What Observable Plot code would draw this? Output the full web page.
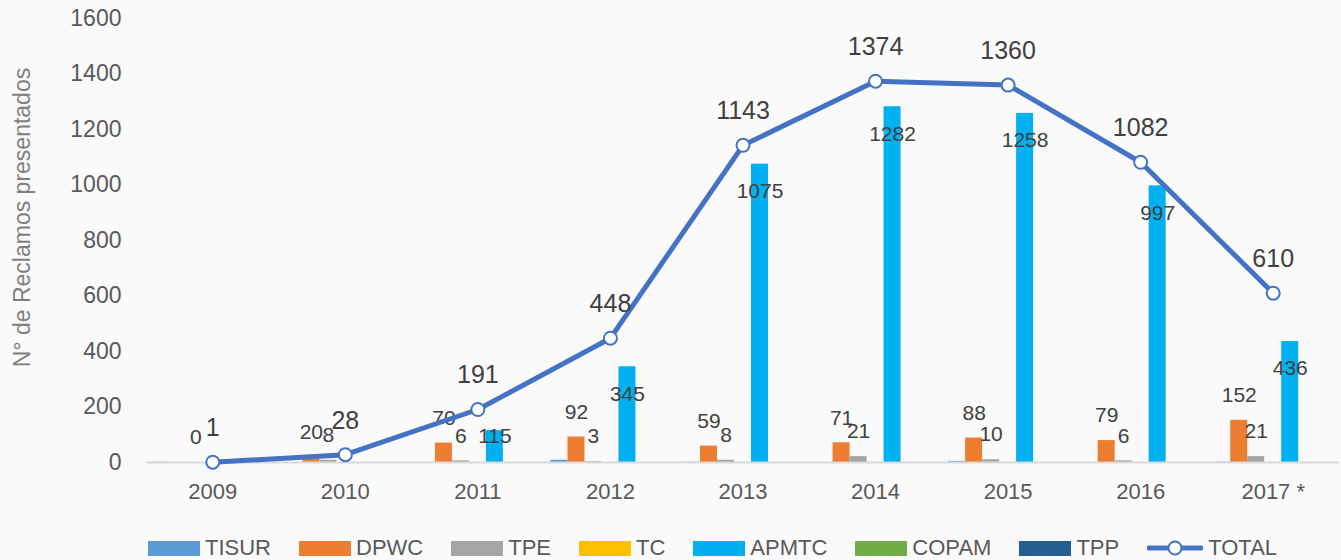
<!DOCTYPE html>
<html>
<head>
<meta charset="utf-8">
<script src="https://cdn.jsdelivr.net/npm/d3@7"></script>
<script src="https://cdn.jsdelivr.net/npm/@observablehq/plot@0.6"></script>
<style>
  html, body { margin: 0; padding: 0; background: #fafafa; }
  body { width: 1341px; height: 560px; overflow: hidden; font-family: "Liberation Sans", Arial, sans-serif; }
  #chart svg { display: block; }
  #legend { display: flex; align-items: center; height: 50px; padding-left: 148px; box-sizing: border-box; gap: 28px; color: #595959; font-size: 22px; margin-top: 13px; }
  .item { display: flex; align-items: center; gap: 5px; }
  .sw { width: 52px; height: 15px; }
</style>
</head>
<body>
<div id="chart"></div>
<div id="legend"></div>
<script>
const years = ["2009", "2010", "2011", "2012", "2013", "2014", "2015", "2016", "2017 *"];
const TISUR = [1, 0, 0, 8, 1, 0, 4, 0, 1];
const DPWC  = [null, 20, 70, 92, 59, 71, 88, 79, 152];
const TPE   = [0, 8, 6, 3, 8, 21, 10, 6, 21];
const TC    = [null, null, null, null, null, null, null, null, null];
const APMTC = [null, null, 115, 345, 1075, 1282, 1258, 997, 436];
const COPAM = [null, null, null, null, null, null, null, null, null];
const TPP   = [null, null, null, null, null, null, null, null, null];
const TOTAL = [1, 28, 191, 448, 1143, 1374, 1360, 1082, 610];
const yTicks = [0, 200, 400, 600, 800, 1000, 1200, 1400, 1600];
const yTitle = "N° de Reclamos presentados";

const seriesNames = ["TISUR", "DPWC", "TPE", "TC", "APMTC", "COPAM", "TPP"];
const seriesValues = [TISUR, DPWC, TPE, TC, APMTC, COPAM, TPP];
const colors = ["#5b9bd5", "#ed7d31", "#a5a5a5", "#ffc000", "#00b0f0", "#70ad47", "#255e91"];
const lineColor = "#4472c4";
const labeledAbove = ["DPWC", "TPE"];
const labeledInside = ["APMTC"];

const slot = 0.1282; // fraction of a year band taken by one bar
const rows = [];
seriesNames.forEach((s, k) => {
  seriesValues[k].forEach((v, i) => {
    if (v === null) return;
    const x1 = i + (k - 3.5) * slot;
    rows.push({series: s, i, v, x1, x2: x1 + slot, xc: x1 + slot / 2});
  });
});
const totals = TOTAL.map((v, i) => ({i, v}));

const chart = Plot.plot({
  width: 1341,
  height: 510,
  marginLeft: 146,
  marginRight: 2,
  marginTop: 18,
  marginBottom: 48,
  style: {background: "#fafafa", color: "#595959", fontFamily: "Liberation Sans, Arial, sans-serif", fontSize: "22px", overflow: "visible"},
  x: {type: "linear", domain: [-0.5, 8.5]},
  y: {domain: [0, 1600]},
  color: {domain: seriesNames, range: colors},
  marks: [
    Plot.axisY({ticks: yTicks, tickFormat: d => String(d), tickSize: 0, tickPadding: 25, fontSize: 23, label: null}),
    Plot.axisX({ticks: d3.range(years.length), tickFormat: i => years[i], tickSize: 0, tickPadding: 21, fontSize: 22, label: null}),
    Plot.text([yTitle], {frameAnchor: "left", textAnchor: "middle", lineAnchor: "middle", rotate: -90, dx: -124, dy: -23, fontSize: 23, fill: "#7f7f7f"}),
    Plot.rectY(rows, {x1: "x1", x2: "x2", y1: 0, y2: "v", fill: "series"}),
    Plot.ruleY([0], {stroke: "#d9d9d9", strokeWidth: 2}),
    Plot.text(rows.filter(d => labeledAbove.includes(d.series)), {x: "xc", y: "v", text: d => String(d.v), dy: -25, fontSize: 21, fill: "#404040"}),
    Plot.text(rows.filter(d => labeledInside.includes(d.series)), {x: "xc", y: d => Math.max(d.v - 98, 95), text: d => String(d.v), fontSize: 21, fill: "#404040"}),
    Plot.line(totals, {x: "i", y: "v", stroke: lineColor, strokeWidth: 5, strokeLinejoin: "round"}),
    Plot.dot(totals, {x: "i", y: "v", r: 6.5, fill: "white", stroke: lineColor, strokeWidth: 2}),
    Plot.text(totals, {x: "i", y: "v", text: d => String(d.v), dy: -34, fontSize: 25, fill: "#404040"})
  ]
});
document.getElementById("chart").appendChild(chart);

const legend = document.getElementById("legend");
seriesNames.forEach((s, k) => {
  const it = document.createElement("div");
  it.className = "item";
  it.innerHTML = `<span class="sw" style="background:${colors[k]}"></span><span>${s}</span>`;
  legend.appendChild(it);
});
const tot = document.createElement("div");
tot.className = "item";
tot.innerHTML = `<svg width="56" height="20"><line x1="2" y1="10" x2="54" y2="10" stroke="${lineColor}" stroke-width="5" stroke-linecap="round"/><circle cx="28" cy="10" r="6.5" fill="white" stroke="${lineColor}" stroke-width="2"/></svg><span>TOTAL</span>`;
legend.appendChild(tot);
</script>
</body>
</html>
